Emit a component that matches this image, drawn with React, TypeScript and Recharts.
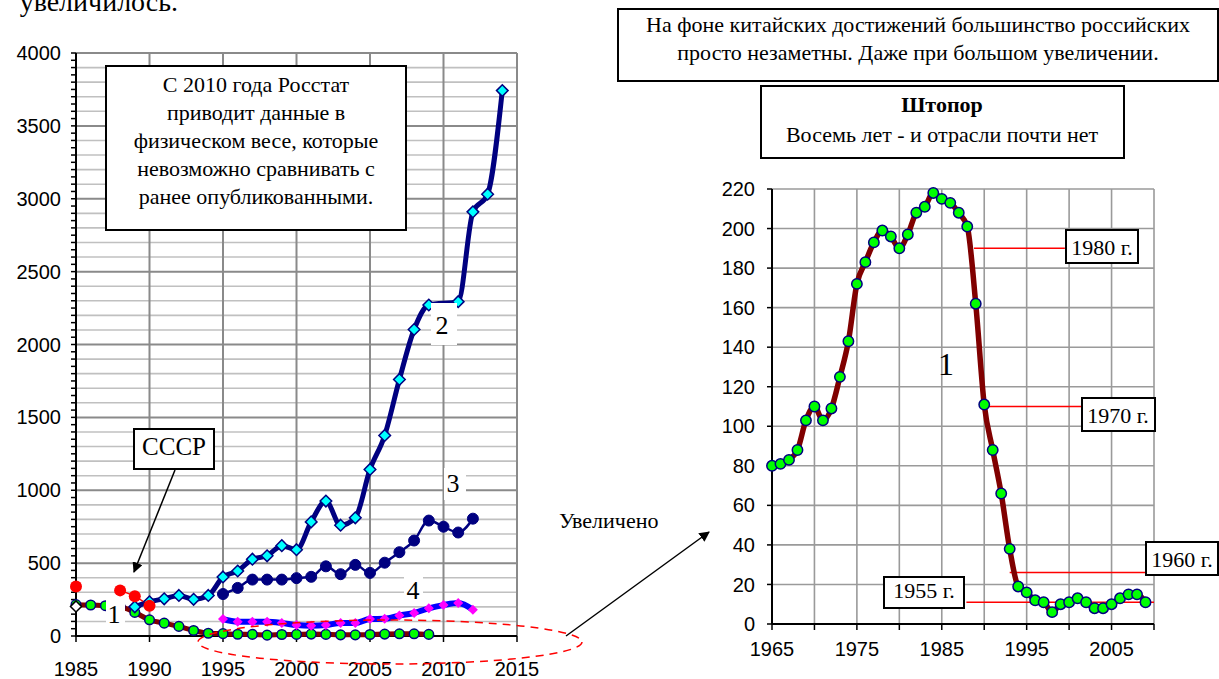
import React from 'react'
import { CartesianGrid, ComposedChart, Line, ReferenceLine, XAxis, YAxis } from 'recharts'

// Series 1 (same data on both charts), yearly from 1965
const rusStart = 1965
const rusValues = [
  80, 81, 83, 88, 103, 110, 103, 109, 125, 143,
  172, 183, 193, 199, 196, 190, 197, 208, 211, 218,
  215, 213, 208, 201, 162, 111, 88, 66, 38, 19,
  16, 12, 11, 6, 10, 11, 13, 11, 8, 8,
  10, 13, 15, 15, 11
]

// USSR red dots
const ussrYears = [1985, 1986, 1987, 1988, 1989, 1990]
const ussrValues = [340, null, null, 313, 272, 208]

// lone white diamond
const whiteYears = [1985]
const whiteValues = [203]

// Series 2 (2010 hidden behind the label)
const s2Years = [
  1989, 1990, 1991, 1992, 1993, 1994, 1995, 1996, 1997, 1998, 1999, 2000, 2001,
  2002, 2003, 2004, 2005, 2006, 2007, 2008, 2009, 2011, 2012, 2013, 2014
]
const s2Values = [
  200, 235, 255, 278, 252, 278, 405, 446, 527, 550, 620, 592, 783,
  926, 760, 811, 1143, 1376, 1760, 2103, 2271, 2294, 2910, 3031, 3742
]

// Series 3 and 4
const s34Years = [
  1995, 1996, 1997, 1998, 1999, 2000, 2001, 2002, 2003, 2004, 2005, 2006,
  2007, 2008, 2009, 2010, 2011, 2012
]
const s3Values = [288, 330, 387, 387, 387, 397, 406, 478, 424, 488, 433, 503, 575, 655, 792, 750, 710, 805]
const s4Values = [116, 98, 97, 97, 89, 75, 70, 75, 89, 89, 116, 118, 140, 158, 190, 212, 226, 180]

// axes
const leftXRange = [1985, 2015]
const leftXTicks = [1985, 1990, 1995, 2000, 2005, 2010, 2015]
const leftYRange = [0, 4000]
const leftYLabels = [0, 500, 1000, 1500, 2000, 2500, 3000, 3500, 4000]
const leftYTicks50 = Array.from({ length: 81 }, (_, i) => i * 50)
const leftGrid100 = Array.from({ length: 41 }, (_, i) => i * 100).filter((v) => v % 500 !== 0)
const rightXTicks = [1965, 1970, 1975, 1980, 1985, 1990, 1995, 2000, 2005, 2010]
const rightXLabels = [1965, 1975, 1985, 1995, 2005]
const rightYTicks = [0, 20, 40, 60, 80, 100, 120, 140, 160, 180, 200, 220]

// red guide lines on the zoomed chart
const guides = [
  { label: '1980 г.', y: 190, from: 1988.8, to: 1999.5 },
  { label: '1970 г.', y: 110, from: 1990.5, to: 2001.4 },
  { label: '1960 г.', y: 26, from: 1993, to: 2009.1 },
  { label: '1955 г.', y: 11, from: 1987.9, to: 2010 }
]

const zip = (xs: number[], ys: Array<number | null>) => xs.map((year, i) => ({ year, v: ys[i] }))
const rusRows = rusValues.map((v, i) => ({ year: rusStart + i, v }))
const rusLeftRows = rusRows.filter((r) => r.year >= 1985)

const SERIF = 'Liberation Serif'
const axisFont = { fill: '#000', fontSize: 20, fontFamily: 'Liberation Sans' }

// left chart frame
const LEFT_W = 560
const LEFT_H = 679
const Y_AXIS_W = 60
const X_AXIS_H = 30
const leftMargin = { top: 53, right: 43, bottom: 13, left: 16 }
const plotL = leftMargin.left + Y_AXIS_W
const plotR = LEFT_W - leftMargin.right
const plotT = leftMargin.top
const plotB = LEFT_H - leftMargin.bottom - X_AXIS_H
const sx = (yr: number) => plotL + ((yr - leftXRange[0]) / (leftXRange[1] - leftXRange[0])) * (plotR - plotL)
const sy = (v: number) => plotB - ((v - leftYRange[0]) / (leftYRange[1] - leftYRange[0])) * (plotB - plotT)

function circleDot(fill: string, stroke: string, r: number, sw = 1.5) {
  return (p: any) => {
    if (p.cx == null || p.cy == null || p.value == null) return <g key={`c${p.index}`} />
    return <circle key={`c${p.index}`} cx={p.cx} cy={p.cy} r={r} fill={fill} stroke={stroke} strokeWidth={sw} />
  }
}

function diamondDot(fill: string, stroke: string, s: number, sw = 1.5) {
  return (p: any) => {
    if (p.cx == null || p.cy == null || p.value == null) return <g key={`d${p.index}`} />
    const d = `M${p.cx},${p.cy - s}L${p.cx + s},${p.cy}L${p.cx},${p.cy + s}L${p.cx - s},${p.cy}Z`
    return <path key={`d${p.index}`} d={d} fill={fill} stroke={stroke} strokeWidth={sw} />
  }
}

function Box({ x, y, w, h, sw = 2 }: { x: number; y: number; w: number; h: number; sw?: number }) {
  return <rect x={x} y={y} width={w} height={h} fill="#fff" stroke="#000" strokeWidth={sw} />
}

// grid, axis lines and ticks of the left chart, drawn beneath it
function LeftFrame() {
  return (
    <svg width={LEFT_W} height={LEFT_H} style={{ position: 'absolute', left: 0, top: 0 }}>
      {leftGrid100.map((v) => (
        <line key={`m${v}`} x1={plotL} x2={plotR} y1={sy(v)} y2={sy(v)} stroke="#c0c0c0" strokeWidth={1.6} />
      ))}
      {leftYLabels.map((v) => (
        <line key={`M${v}`} x1={plotL} x2={plotR} y1={sy(v)} y2={sy(v)} stroke="#8a8a8a" strokeWidth={2} />
      ))}
      {leftXTicks.map((t) => (
        <line key={`v${t}`} x1={sx(t)} x2={sx(t)} y1={plotT} y2={plotB} stroke="#8a8a8a" strokeWidth={2} />
      ))}
      {leftYTicks50.map((v) => (
        <line key={`t${v}`} x1={plotL - 5} x2={plotL} y1={sy(v)} y2={sy(v)} stroke="#000" strokeWidth={1.5} />
      ))}
      {leftXTicks.map((t) => (
        <line key={`xt${t}`} x1={sx(t)} x2={sx(t)} y1={plotB} y2={plotB + 6} stroke="#000" strokeWidth={1.5} />
      ))}
      <line x1={plotL} x2={plotL} y1={plotT} y2={plotB + 1} stroke="#000" strokeWidth={2} />
      <line x1={plotL - 1} x2={plotR} y1={plotB} y2={plotB} stroke="#000" strokeWidth={2} />
    </svg>
  )
}

function LeftChart() {
  return (
    <ComposedChart width={LEFT_W} height={LEFT_H} margin={leftMargin}>
      <XAxis
        dataKey="year"
        type="number"
        domain={leftXRange}
        ticks={leftXTicks}
        interval={0}
        height={X_AXIS_H}
        tickSize={6}
        tickMargin={20}
        tick={axisFont}
        axisLine={false}
        tickLine={false}
      />
      <YAxis
        type="number"
        domain={leftYRange}
        ticks={leftYLabels}
        interval={0}
        width={Y_AXIS_W}
        tickSize={5}
        tickMargin={10}
        tick={axisFont}
        axisLine={false}
        tickLine={false}
      />
      <Line
        data={rusLeftRows}
        dataKey="v"
        type="monotone"
        stroke="#800000"
        strokeWidth={5}
        dot={circleDot('#00ff00', '#000080', 4.8)}
        isAnimationActive={false}
      />
      <Line
        data={zip(whiteYears, whiteValues)}
        dataKey="v"
        stroke="none"
        dot={diamondDot('#fff', '#000', 5.5)}
        isAnimationActive={false}
      />
      <Line
        data={zip(s34Years, s4Values)}
        dataKey="v"
        type="monotone"
        stroke="#0000ff"
        strokeWidth={6}
        dot={diamondDot('#ff00ff', 'none', 5, 0)}
        isAnimationActive={false}
      />
      <Line
        data={zip(s34Years, s3Values)}
        dataKey="v"
        type="monotone"
        stroke="#000080"
        strokeWidth={2.5}
        dot={circleDot('#000080', '#000080', 5.5, 1)}
        isAnimationActive={false}
      />
      <Line
        data={zip(s2Years, s2Values)}
        dataKey="v"
        type="monotone"
        stroke="#000080"
        strokeWidth={5}
        dot={diamondDot('#00ffff', '#000080', 5.8)}
        isAnimationActive={false}
      />
      <Line
        data={zip(ussrYears, ussrValues)}
        dataKey="v"
        type="monotone"
        stroke="#ff0000"
        strokeWidth={1.5}
        dot={circleDot('#ff0000', '#ff0000', 6, 0)}
        isAnimationActive={false}
      />
    </ComposedChart>
  )
}

function RightChart() {
  return (
    <ComposedChart width={500} height={504} margin={{ top: 29, right: 46, bottom: 10, left: 22 }}>
      <CartesianGrid stroke="#9a9a9a" strokeWidth={1.6} />
      <XAxis
        dataKey="year"
        type="number"
        domain={[1965, 2010]}
        ticks={rightXTicks}
        interval={0}
        height={30}
        tickSize={6}
        tickMargin={12}
        tick={axisFont}
        tickFormatter={(v: number) => (rightXLabels.includes(v) ? String(v) : '')}
        stroke="#000"
        axisLine={{ stroke: '#000', strokeWidth: 2 }}
        tickLine={{ stroke: '#000', strokeWidth: 1.5 }}
      />
      <YAxis
        type="number"
        domain={[0, 220]}
        ticks={rightYTicks}
        interval={0}
        width={50}
        tickSize={5}
        tickMargin={12}
        tick={axisFont}
        stroke="#000"
        axisLine={{ stroke: '#000', strokeWidth: 2 }}
        tickLine={{ stroke: '#000', strokeWidth: 1.5 }}
      />
      {guides.map((g) => (
        <ReferenceLine
          key={g.label}
          segment={[
            { x: g.from, y: g.y },
            { x: g.to, y: g.y }
          ]}
          stroke="#ff0000"
          strokeWidth={1.5}
        />
      ))}
      <Line
        data={rusRows}
        dataKey="v"
        type="monotone"
        stroke="#800000"
        strokeWidth={5.5}
        dot={circleDot('#00ff00', '#000080', 5.2)}
        isAnimationActive={false}
      />
    </ComposedChart>
  )
}

export default function App() {
  return (
    <div
      style={{
        position: 'absolute',
        left: 0,
        top: 0,
        width: 1219,
        height: 679,
        overflow: 'hidden',
        background: '#fff'
      }}
    >
      <LeftFrame />
      <div style={{ position: 'absolute', left: 0, top: 0 }}>
        <LeftChart />
      </div>
      <div style={{ position: 'absolute', left: 700, top: 160 }}>
        <RightChart />
      </div>
      <svg
        width={1219}
        height={679}
        style={{ position: 'absolute', left: 0, top: 0, pointerEvents: 'none' }}
        fontFamily={SERIF}
      >
        <defs>
          <marker id="arr" viewBox="0 0 10 10" refX="9" refY="5" markerWidth="7" markerHeight="7" orient="auto">
            <path d="M0,0L10,5L0,10Z" fill="#000" />
          </marker>
        </defs>

        <text x={178} y={11} fontSize={28} textAnchor="end">увеличилось.</text>

        {/* left chart note */}
        <Box x={106} y={66} w={300} h={164} />
        <g fontSize={22} textAnchor="middle">
          <text x={256} y={92}>С 2010 года Росстат</text>
          <text x={256} y={120}>приводит данные в</text>
          <text x={256} y={148}>физическом весе, которые</text>
          <text x={256} y={176}>невозможно сравнивать с</text>
          <text x={256} y={204}>ранее опубликованными.</text>
        </g>

        {/* series labels */}
        <rect x={431} y={303} width={26} height={42} fill="#fff" />
        <text x={442} y={334} fontSize={26} textAnchor="middle">2</text>
        <rect x={444} y={468} width={22} height={32} fill="#fff" />
        <text x={453} y={492} fontSize={26} textAnchor="middle">3</text>
        <rect x={404} y={577} width={19} height={27} fill="#fff" />
        <text x={413} y={599} fontSize={26} textAnchor="middle">4</text>
        <rect x={106} y={598} width={19} height={37} fill="#fff" />
        <text x={114} y={623} fontSize={26} textAnchor="middle">1</text>

        {/* USSR callout */}
        <line x1={175} y1={470} x2={134} y2={572} stroke="#000" strokeWidth={1.5} markerEnd="url(#arr)" />
        <Box x={134} y={429} w={80} h={40} />
        <text x={174} y={455} fontSize={25} textAnchor="middle">СССР</text>

        {/* zoom ellipse and arrow */}
        <ellipse cx={390} cy={642} rx={192} ry={22} fill="none" stroke="#ff0000" strokeWidth={1.5} strokeDasharray="8 6" />
        <line x1={566} y1={636} x2={709} y2={532} stroke="#000" strokeWidth={1.5} markerEnd="url(#arr)" />
        <text x={559} y={528} fontSize={22}>Увеличено</text>

        {/* right titles */}
        <Box x={618} y={9} w={600} h={72} />
        <g fontSize={22} textAnchor="middle">
          <text x={918} y={32}>На фоне китайских достижений большинство российских</text>
          <text x={918} y={60}>просто незаметны. Даже при большом увеличении.</text>
        </g>
        <Box x={761} y={86} w={363} h={72} />
        <text x={942} y={112} fontSize={22} fontWeight="bold" textAnchor="middle">Штопор</text>
        <text x={942} y={142} fontSize={22} textAnchor="middle">Восемь лет - и отрасли почти нет</text>

        {/* right chart labels */}
        <text x={946} y={375} fontSize={32} textAnchor="middle">1</text>
        <Box x={1066} y={230} w={72} h={33} />
        <text x={1102} y={255} fontSize={22} textAnchor="middle">{guides[0].label}</text>
        <Box x={1082} y={398} w={73} h={33} />
        <text x={1118} y={423} fontSize={22} textAnchor="middle">{guides[1].label}</text>
        <Box x={1146} y={542} w={72} h={33} />
        <text x={1182} y={567} fontSize={22} textAnchor="middle">{guides[2].label}</text>
        <Box x={884} y={577} w={80} h={31} />
        <text x={924} y={598} fontSize={22} textAnchor="middle">{guides[3].label}</text>
      </svg>
    </div>
  )
}
